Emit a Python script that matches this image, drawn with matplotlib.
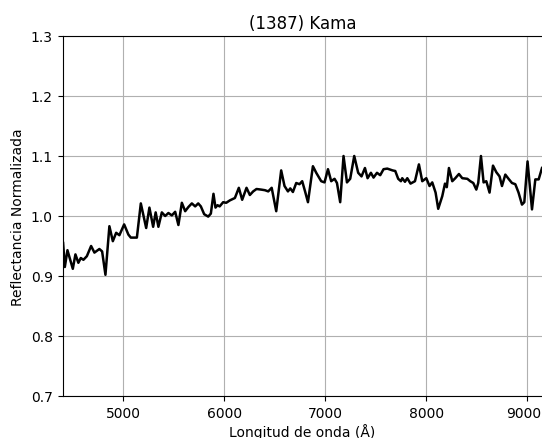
import matplotlib
matplotlib.use("Agg")
import matplotlib.pyplot as plt
from matplotlib.transforms import ScaledTranslation

# Espectro de reflectancia
longitud = [4406, 4423, 4449, 4502, 4528, 4557, 4581, 4607, 4641, 4683,
            4716, 4765, 4792, 4825, 4864, 4898, 4931, 4963, 5010, 5052,
            5076, 5136, 5175, 5228, 5260, 5297, 5322, 5349, 5383, 5416,
            5448, 5482, 5515, 5547, 5581, 5614, 5646, 5680, 5713, 5743,
            5769, 5802, 5842, 5868, 5894, 5914, 5934, 5955, 5990, 6020,
            6056, 6106, 6145, 6178, 6221, 6254, 6287, 6320, 6366, 6403,
            6436, 6470, 6515, 6564, 6597, 6631, 6654, 6680, 6713, 6745,
            6772, 6802, 6829, 6878, 6911, 6960, 6993, 7027, 7059, 7092,
            7116, 7148, 7181, 7215, 7247, 7287, 7326, 7359, 7393, 7419,
            7452, 7478, 7512, 7544, 7577, 7614, 7666, 7693, 7722, 7749,
            7762, 7789, 7812, 7844, 7888, 7927, 7960, 8000, 8032, 8059,
            8092, 8118, 8158, 8185, 8203, 8224, 8257, 8287, 8323, 8356,
            8406, 8435, 8465, 8495, 8514, 8541, 8567, 8594, 8626, 8660,
            8693, 8725, 8749, 8782, 8814, 8848, 8881, 8913, 8947, 8970,
            9002, 9046, 9079, 9112, 9145]
reflectancia = [0.955, 0.915, 0.943, 0.912, 0.936, 0.922, 0.930, 0.927, 0.933, 0.950,
                0.939, 0.945, 0.941, 0.902, 0.983, 0.958, 0.972, 0.968, 0.986, 0.969,
                0.964, 0.964, 1.021, 0.980, 1.014, 0.982, 1.006, 0.982, 1.006, 1.000,
                1.005, 1.001, 1.007, 0.985, 1.022, 1.008, 1.015, 1.021, 1.016, 1.021,
                1.016, 1.003, 0.999, 1.004, 1.037, 1.014, 1.018, 1.016, 1.023, 1.022,
                1.026, 1.030, 1.047, 1.027, 1.047, 1.035, 1.041, 1.045, 1.044, 1.043,
                1.041, 1.047, 1.008, 1.076, 1.050, 1.041, 1.046, 1.040, 1.055, 1.053,
                1.058, 1.040, 1.023, 1.083, 1.072, 1.058, 1.056, 1.078, 1.058, 1.062,
                1.055, 1.023, 1.100, 1.056, 1.062, 1.100, 1.072, 1.066, 1.080, 1.063,
                1.072, 1.064, 1.072, 1.068, 1.078, 1.079, 1.076, 1.075, 1.062, 1.058,
                1.063, 1.057, 1.063, 1.054, 1.058, 1.086, 1.058, 1.063, 1.050, 1.056,
                1.039, 1.012, 1.033, 1.054, 1.048, 1.080, 1.058, 1.063, 1.070, 1.063,
                1.062, 1.058, 1.055, 1.044, 1.055, 1.100, 1.056, 1.058, 1.039, 1.084,
                1.073, 1.066, 1.050, 1.069, 1.062, 1.055, 1.053, 1.039, 1.019, 1.023,
                1.091, 1.011, 1.061, 1.061, 1.080]

fig = plt.figure(figsize=(5.42, 4.39), dpi=100)
ax = fig.add_axes([62.5 / 542, 42 / 439, 480 / 542, 360 / 439])

ax.plot(longitud, reflectancia, color='black', linewidth=1.8, solid_joinstyle='round')

ax.set_xlim(4400, 9150)
ax.set_ylim(0.7, 1.3)
ax.set_xticks([5000, 6000, 7000, 8000, 9000])
ax.set_yticks([0.7, 0.8, 0.9, 1.0, 1.1, 1.2, 1.3])
ax.set_yticklabels(['0.7', '0.8', '0.9', '1.0', '1.1', '1.2', '1.3'])
ax.grid(True, color='#b0b0b0', linewidth=0.8)

# la última etiqueta queda pegada al borde: se corre un poco a la izquierda
ultima = ax.get_xticklabels()[-1]
ultima.set_transform(ultima.get_transform() + ScaledTranslation(-4 / 100, 0, fig.dpi_scale_trans))

ax.set_title('(1387) Kama', fontsize=12)
ax.set_xlabel('Longitud de onda (Å)', labelpad=2.5)
ax.set_ylabel('Reflectancia Normalizada')

fig.savefig('out.png', dpi=100)
